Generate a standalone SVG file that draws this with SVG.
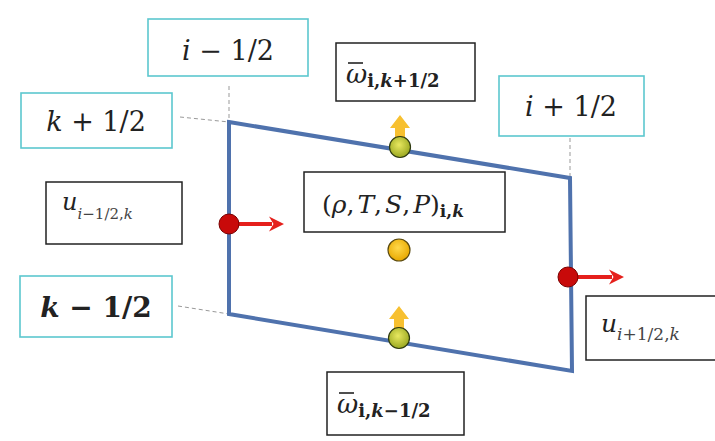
<svg xmlns="http://www.w3.org/2000/svg" width="715" height="441" viewBox="0 0 715 441">
<style>
.cy{fill:#fff;stroke:#5cc7cf;stroke-width:1.6}
.bk{fill:#fff;stroke:#222;stroke-width:1.5}
.t{font-family:'DejaVu Serif','Liberation Serif',serif;fill:#222}
.it{font-style:italic}
.dash{stroke:#999;stroke-width:1;stroke-dasharray:4 3;fill:none}
.red{fill:#c80a0a;stroke:#7a0000;stroke-width:1}
.redar{stroke:#e5201c;stroke-width:4;fill:none}
.gy{fill:url(#gyg);stroke:#2e3a10;stroke-width:1.2}
.ylar{fill:#f7c030}
.bar{stroke:#222;stroke-width:1.6}
</style>
<defs>
<radialGradient id="gyg" cx="0.45" cy="0.4" r="0.6">
<stop offset="0" stop-color="#e8e860"/><stop offset="1" stop-color="#9aa820"/>
</radialGradient>
<radialGradient id="yg" cx="0.45" cy="0.4" r="0.6">
<stop offset="0" stop-color="#ffd84a"/><stop offset="1" stop-color="#e8a800"/>
</radialGradient>
<marker id="ra" viewBox="0 0 10 10" refX="2" refY="5" markerWidth="3.8" markerHeight="3.8" orient="auto">
<path d="M0,0 L10,5 L0,10 L3,5 z" fill="#e5201c"/>
</marker>
</defs>

<g id="connectors">
<line class="dash" x1="229" y1="86" x2="229" y2="122"/>
<line class="dash" x1="180" y1="117" x2="229" y2="122"/>
<line class="dash" x1="570" y1="138" x2="570" y2="178"/>
<line class="dash" x1="178" y1="306" x2="229" y2="314"/>
</g>

<g id="cell">
<polygon points="229,122 570,178 572,371 229,314" fill="none" stroke="#4f72ad" stroke-width="4" stroke-linejoin="miter"/>
</g>

<g id="label-i-minus">
<rect class="cy" x="148" y="19" width="160" height="57"/>
<text class="t" x="228" y="60" font-size="27" text-anchor="middle"><tspan class="it">i</tspan> − 1/2</text>
</g>
<g id="label-k-plus">
<rect class="cy" x="21" y="93" width="151" height="55"/>
<text class="t" x="96" y="131" font-size="27" text-anchor="middle"><tspan class="it">k</tspan> + 1/2</text>
</g>
<g id="label-i-plus">
<rect class="cy" x="499" y="76" width="145" height="60"/>
<text class="t" x="571" y="116" font-size="27" text-anchor="middle"><tspan class="it">i</tspan> + 1/2</text>
</g>
<g id="label-k-minus">
<rect class="cy" x="20" y="276" width="152" height="61"/>
<text class="t" x="96" y="317" font-size="28" font-weight="bold" text-anchor="middle"><tspan class="it">k</tspan> − 1/2</text>
</g>

<g id="label-w-top">
<rect class="bk" x="336" y="43" width="139" height="58"/>
<line class="bar" x1="348" y1="63" x2="363" y2="63"/>
<text class="t" x="346" y="83" font-size="26"><tspan class="it">ω</tspan><tspan font-size="18" font-weight="bold" dy="4">i,<tspan class="it">k</tspan>+1/2</tspan></text>
</g>
<g id="label-state">
<rect class="bk" x="304" y="172" width="201" height="60"/>
<text class="t" x="322" y="213" font-size="25">(<tspan class="it">ρ</tspan>,<tspan class="it" dx="3">T</tspan>,<tspan class="it" dx="3">S</tspan>,<tspan class="it" dx="3">P</tspan>)<tspan font-size="17" font-weight="bold" dy="4">i,<tspan class="it">k</tspan></tspan></text>
</g>
<g id="label-u-left">
<rect class="bk" x="46" y="182" width="136" height="62"/>
<text class="t" x="62" y="210" font-size="24"><tspan class="it">u</tspan><tspan font-size="15" dy="9" fill="#444"><tspan class="it">i</tspan>−1/2,<tspan class="it">k</tspan></tspan></text>
</g>
<g id="label-w-bottom">
<rect class="bk" x="327" y="372" width="137" height="63"/>
<line class="bar" x1="339" y1="393" x2="354" y2="393"/>
<text class="t" x="337" y="413" font-size="26"><tspan class="it">ω</tspan><tspan font-size="18" font-weight="bold" dy="4">i,<tspan class="it">k</tspan>−1/2</tspan></text>
</g>
<g id="label-u-right">
<rect class="bk" x="586" y="296" width="130" height="64"/>
<text class="t" x="601" y="332" font-size="25"><tspan class="it">u</tspan><tspan font-size="17" dy="8" fill="#444"><tspan class="it">i</tspan>+1/2,<tspan class="it">k</tspan></tspan></text>
</g>

<g id="u-left">
<line class="redar" x1="232" y1="224" x2="272" y2="224" marker-end="url(#ra)"/>
<circle class="red" cx="229" cy="224" r="10"/>
</g>
<g id="u-right">
<line class="redar" x1="571" y1="277" x2="612" y2="277" marker-end="url(#ra)"/>
<circle class="red" cx="568" cy="277" r="10"/>
</g>
<g id="w-top">
<path class="ylar" d="M395,140 L395,128 L390,128 L400,115 L410,128 L405,128 L405,140 z"/>
<circle class="gy" cx="400" cy="147" r="10.5"/>
</g>
<g id="w-bottom">
<path class="ylar" d="M394,330 L394,319 L389,319 L399,306 L409,319 L404,319 L404,330 z"/>
<circle class="gy" cx="399" cy="338" r="10.5"/>
</g>
<g id="state-point">
<circle cx="399" cy="250" r="11" fill="url(#yg)" stroke="#5a4a10" stroke-width="1.2"/>
</g>
</svg>
